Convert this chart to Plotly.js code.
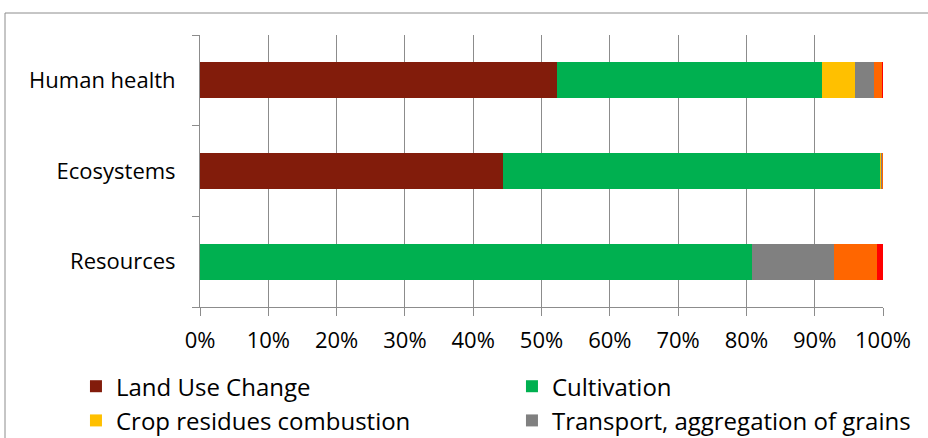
<!DOCTYPE html>
<html><head><meta charset="utf-8">
<script src="https://cdn.plot.ly/plotly-3.0.1.min.js"></script>
<style>html,body{margin:0;padding:0;background:#fff;}#chart{width:928px;height:438px;}</style>
</head><body><div id="chart"></div>
<script>
const categories = ["Human health", "Ecosystems", "Resources"];
const seriesNames = ["Land Use Change", "Cultivation", "Crop residues combustion", "Transport, aggregation of grains", "Drying of grains", "Storage"];
const landUseChange = [52.3, 44.4, 0];
const cultivation = [38.8, 55.2, 80.8];
const cropResidues = [4.8, 0.15, 0];
const transport = [2.8, 0.05, 12.0];
const drying = [1.1, 0.15, 6.3];
const storage = [0.2, 0.05, 0.9];
const colors = ["#821C0B", "#00B050", "#FFC000", "#808080", "#FF6600", "#FF0000"];
const tickVals = [0,10,20,30,40,50,60,70,80,90,100];
const tickText = ["0%","10%","20%","30%","40%","50%","60%","70%","80%","90%","100%"];

const values = [landUseChange, cultivation, cropResidues, transport, drying, storage];
const traces = values.map((v, i) => ({
  type: "bar", orientation: "h", name: seriesNames[i], x: v, y: categories,
  marker: {color: colors[i], line: {width: 0}}, hoverinfo: "x+name"
}));

const layout = {
  width: 928, height: 438,
  margin: {l: 200, r: 45, t: 35, b: 131, autoexpand: false},
  barmode: "stack", bargap: 0.6,
  font: {family: "Open Sans, sans-serif", size: 22, color: "#000"},
  paper_bgcolor: "#fff", plot_bgcolor: "#fff",
  xaxis: {range: [0, 100], tickvals: tickVals, ticktext: tickText, showgrid: true, gridcolor: "#8c8c8c", gridwidth: 1,
    showline: true, linecolor: "#8c8c8c", ticks: "outside", ticklen: 8, tickcolor: "#8c8c8c", zeroline: false,
    tickfont: {size: 22}, ticklabelstandoff: 6, fixedrange: true},
  yaxis: {categoryorder: "array", categoryarray: categories.slice().reverse(), autorange: true,
    showline: true, linecolor: "#8c8c8c", ticks: "outside", tickson: "boundaries", ticklen: 7, tickcolor: "#8c8c8c",
    showgrid: false, zeroline: false, tickfont: {size: 22}, ticklabelstandoff: 19, fixedrange: true},
  showlegend: true,
  legend: {orientation: "h", x: -0.1816, xanchor: "left", y: -0.21, yanchor: "top", traceorder: "normal",
    entrywidth: 391, entrywidthmode: "pixels", font: {size: 24}, tracegroupgap: 0, itemwidth: 30},
  shapes: [
    {type: "rect", xref: "paper", yref: "paper", x0: -195/683, x1: 1.2, y0: -0.6, y1: (307-13)/272,
     line: {color: "#8c8c8c", width: 1}, fillcolor: "rgba(0,0,0,0)", layer: "below"}
  ]
};
Plotly.newPlot("chart", traces, layout, {displayModeBar: false, staticPlot: true});
</script></body></html>
